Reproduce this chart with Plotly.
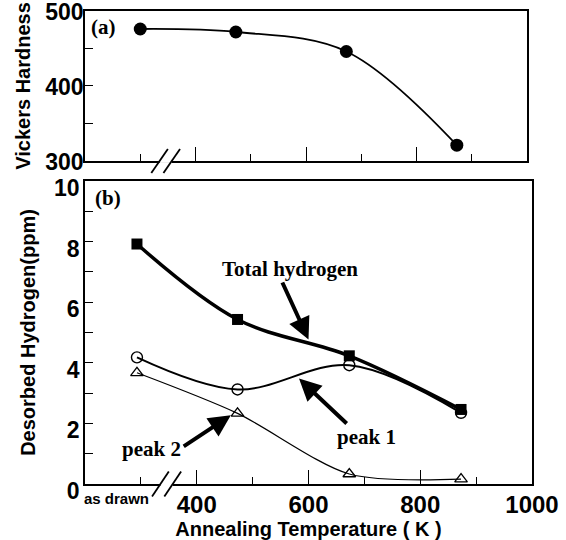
import plotly.graph_objects as go

# ---- data ----
temp_top = [300, 473, 673, 873]          # K (300 = "as drawn")
hardness = [476, 472, 446, 321]

temp_bot = [293, 473, 673, 873]
total_h = [7.92, 5.43, 4.23, 2.46]
peak1_h = [4.18, 3.12, 3.92, 2.35]
peak2_h = [3.67, 2.33, 0.33, 0.16]

x_tickvals = [400, 600, 800, 1000]
x_ticktext = ["400", "600", "800", "1000"]
yb_tickvals = [0, 2, 4, 6, 8, 10]
yt_tickvals = [300, 400, 500]

X_RANGE = [200, 1000]
YT_RANGE = [300, 500]
YB_RANGE = [0, 10]

SANS = "Liberation Sans"
SERIF = "Liberation Serif"

fig = go.Figure()

fig.add_trace(go.Scatter(
    x=temp_top, y=hardness, xaxis="x", yaxis="y", mode="lines+markers",
    line=dict(color="black", width=1.8, shape="spline", smoothing=1),
    marker=dict(symbol="circle", size=13, color="black"), showlegend=False))

fig.add_trace(go.Scatter(
    x=temp_bot, y=peak2_h, xaxis="x2", yaxis="y2", mode="lines+markers",
    line=dict(color="black", width=1.2, shape="spline", smoothing=0.8),
    marker=dict(symbol="triangle-up-open", size=11, color="black", line=dict(width=1.3)),
    showlegend=False))
fig.add_trace(go.Scatter(
    x=temp_bot, y=total_h, xaxis="x2", yaxis="y2", mode="lines+markers",
    line=dict(color="black", width=3.5, shape="spline", smoothing=1),
    marker=dict(symbol="square", size=11, color="black"), showlegend=False))
fig.add_trace(go.Scatter(
    x=temp_bot, y=peak1_h, xaxis="x2", yaxis="y2", mode="lines+markers",
    line=dict(color="black", width=2, shape="spline", smoothing=1),
    marker=dict(symbol="circle-open", size=11, color="black", line=dict(width=1.4)),
    showlegend=False))

tickfont_y = dict(family=SANS, size=23, color="black", weight=700)
tickfont_x = dict(family=SANS, size=24, color="black", weight=700)
titlefont = dict(family=SANS, size=20, color="black", weight=700)

common_x = dict(range=X_RANGE, showline=True, linecolor="black", linewidth=1.5, mirror=True,
                ticks="inside", ticklen=14, tickwidth=1.3, tickcolor="black", automargin=False,
                tickvals=x_tickvals, ticktext=x_ticktext, showgrid=False, zeroline=False,
                ticklabeloverflow="allow",
                minor=dict(ticks="inside", ticklen=7, tickwidth=1.3, tickcolor="black",
                           dtick=100, tick0=200, showgrid=False))
common_y = dict(showline=True, linecolor="black", linewidth=1.5, mirror=True, automargin=False,
                ticks="inside", ticklen=8, tickwidth=1.3, tickcolor="black",
                ticklabeloverflow="allow",
                showgrid=False, zeroline=False, tickfont=tickfont_y)

fig.update_layout(
    width=566, height=540, paper_bgcolor="white", plot_bgcolor="white",
    margin=dict(l=85, r=34, t=11, b=56, autoexpand=False),
    xaxis=dict(common_x, domain=[0, 0.9888], anchor="y", showticklabels=False),
    yaxis=dict(common_y, domain=[0.683, 1], range=YT_RANGE, tickvals=yt_tickvals,
               ticklabelshift=1, ticklabelstandoff=-5,
               minor=dict(ticks="inside", ticklen=8, tickwidth=1.3, tickcolor="black", dtick=50,
                          tick0=300, showgrid=False),
               title=dict(text="Vickers Hardness", font=titlefont, standoff=9)),
    xaxis2=dict(common_x, domain=[0, 1], anchor="y2", tickfont=tickfont_x,
                ticklabelstandoff=-2,
                title=dict(text="Annealing Temperature ( K )", font=titlefont, standoff=0)),
    yaxis2=dict(common_y, domain=[0, 0.6406], range=YB_RANGE, tickvals=yb_tickvals,
                anchor="x2", ticklabelshift=7, ticklabelstandoff=-1,
                minor=dict(ticks="inside", ticklen=8, tickwidth=1.3, tickcolor="black", dtick=1,
                           tick0=0, showgrid=False),
                title=dict(text="Desorbed Hydrogen(ppm)", font=titlefont, standoff=13)),
)

# ---- axis break marks ("//") ----
def xd(k):
    return (k - X_RANGE[0]) / (X_RANGE[1] - X_RANGE[0])

BREAK_SLASHES = [(320, 350), (342, 372)]   # K, start/end of each slash
BREAK_GAP = (335, 357)
for xr, yr, half in (("x domain", "y domain", 0.08), ("x2 domain", "y2 domain", 0.041)):
    fig.add_shape(type="line", xref=xr, yref=yr, x0=xd(BREAK_GAP[0]), x1=xd(BREAK_GAP[1]),
                  y0=0, y1=0, line=dict(color="white", width=4), layer="above")
    for a, b in BREAK_SLASHES:
        fig.add_shape(type="line", xref=xr, yref=yr, x0=xd(a), x1=xd(b), y0=-half, y1=half,
                      line=dict(color="black", width=1.8), layer="above")

serif_ann = dict(family=SERIF, size=21, color="black", weight=700)
fig.add_annotation(text="(a)", xref="x domain", yref="y domain", x=0.009, y=0.893,
                   xanchor="left", yanchor="middle", showarrow=False, font=serif_ann)
fig.add_annotation(text="(b)", xref="x2 domain", yref="y2 domain", x=0.018, y=0.9455,
                   xanchor="left", yanchor="middle", showarrow=False, font=serif_ann)

fig.add_annotation(text="Total hydrogen", xref="x2", yref="y2", x=566, y=7.08,
                   showarrow=False, font=serif_ann)
fig.add_annotation(text="peak 1", xref="x2", yref="y2", x=704, y=1.54,
                   showarrow=False, font=serif_ann)
fig.add_annotation(text="peak 2", xref="x2", yref="y2", x=319, y=1.14,
                   showarrow=False, font=serif_ann)

# arrows: (tail_x, tail_y, head_x, head_y)
ARROWS = [(552, 6.70, 600, 4.77), (671, 1.95, 583, 3.48), (374, 1.21, 461, 2.27)]
for tx, ty, hx, hy in ARROWS:
    fig.add_annotation(text="", xref="x2", yref="y2", x=hx, y=hy, axref="x2", ayref="y2",
                       ax=tx, ay=ty, showarrow=True, arrowhead=2, arrowsize=1.1,
                       arrowwidth=4, arrowcolor="black")

fig.add_annotation(text="as drawn", xref="paper", yref="paper", x=-0.0067, y=-0.0317,
                   xanchor="left", yanchor="middle", showarrow=False,
                   font=dict(family=SANS, size=15, color="black", weight=700))

fig.write_html("out.html", config={"displayModeBar": False},
               post_script="document.body.style.margin='0px';")
